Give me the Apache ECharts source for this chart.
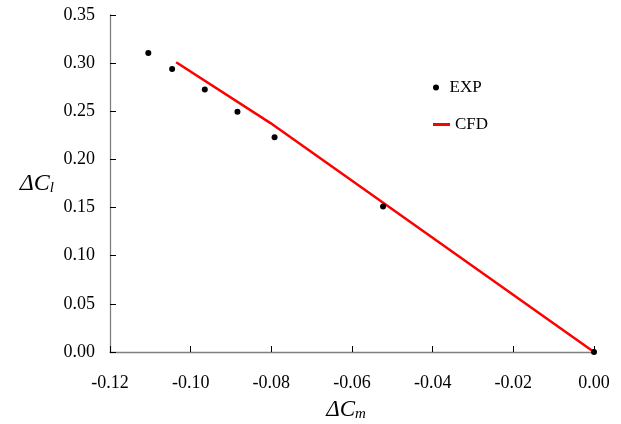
<!DOCTYPE html>
<html>
<head>
<meta charset="utf-8">
<script src="https://cdn.jsdelivr.net/npm/echarts@6/dist/echarts.min.js"></script>
<style>
  html, body { margin: 0; padding: 0; background: #fff; }
  #chart { width: 621px; height: 424px; }
</style>
</head>
<body>
<div id="chart"></div>
<script>
  // 实验点 (ΔCm, ΔCl)
  const expX = [-0.1105, -0.1046, -0.0965, -0.0884, -0.0792, -0.0523, 0.0]
  const expY = [0.3105, 0.294, 0.2726, 0.2495, 0.223, 0.151, 0.0]
  // CFD 曲线
  const cfdX = [-0.1036, -0.0803, 0.0]
  const cfdY = [0.301, 0.238, 0.0]

  const font = 'Liberation Serif'
  const axisColor = '#808080'

  const chart = echarts.init(document.getElementById('chart'))
  chart.setOption({
    animation: false,
    textStyle: { fontFamily: font },
    grid: { left: 110, right: 27, top: 15, bottom: 72, outerBoundsMode: 'none' },
    legend: [{
      data: [{ name: 'EXP', icon: 'circle' }],
      left: 428,
      top: 74,
      itemWidth: 17,
      itemHeight: 6,
      textStyle: { fontFamily: font, fontSize: 17, color: '#000' }
    }, {
      data: [{ name: 'CFD', icon: 'rect' }],
      left: 428,
      top: 111,
      itemWidth: 17,
      itemHeight: 3,
      textStyle: { fontFamily: font, fontSize: 17, color: '#000' }
    }],
    xAxis: {
      type: 'value',
      min: -0.12,
      max: 0,
      interval: 0.02,
      splitLine: { show: false },
      axisLine: { onZero: false, lineStyle: { color: axisColor, width: 1.3 } },
      axisTick: { inside: true, length: 6, lineStyle: { color: '#000' } },
      axisLabel: {
        margin: 22,
        fontFamily: font,
        fontSize: 18,
        color: '#000',
        formatter: v => v.toFixed(2)
      },
      name: '{a|ΔC}{b|m}',
      nameLocation: 'middle',
      nameGap: 45,
      nameTextStyle: {
        padding: [0, 12, 0, 0],
        rich: {
          a: { fontFamily: font, fontStyle: 'italic', fontSize: 23, color: '#000' },
          b: { fontFamily: font, fontStyle: 'italic', fontSize: 15, color: '#000', padding: [10, 0, 0, 0] }
        }
      }
    },
    yAxis: {
      type: 'value',
      min: 0,
      max: 0.35,
      interval: 0.05,
      splitLine: { show: false },
      axisLine: { show: true, onZero: false, lineStyle: { color: axisColor, width: 1.3 } },
      axisTick: { show: true, inside: true, length: 6, lineStyle: { color: '#000' } },
      axisLabel: {
        margin: 15,
        fontFamily: font,
        fontSize: 18,
        color: '#000',
        formatter: v => v.toFixed(2)
      },
      name: '{a|ΔC}{b|l}',
      nameLocation: 'middle',
      nameRotate: 0,
      nameGap: 56,
      nameTextStyle: {
        rich: {
          a: { fontFamily: font, fontStyle: 'italic', fontSize: 24, color: '#000' },
          b: { fontFamily: font, fontStyle: 'italic', fontSize: 15, color: '#000', padding: [10, 0, 0, 0] }
        }
      }
    },
    series: [{
      name: 'CFD',
      type: 'line',
      data: cfdX.map((x, i) => [x, cfdY[i]]),
      showSymbol: false,
      lineStyle: { color: '#ff0000', width: 2.5 },
      itemStyle: { color: '#ff0000' },
      z: 2
    }, {
      name: 'EXP',
      type: 'scatter',
      data: expX.map((x, i) => [x, expY[i]]),
      symbolSize: 6,
      itemStyle: { color: '#000', opacity: 1 },
      z: 3
    }]
  })
</script>
</body>
</html>
